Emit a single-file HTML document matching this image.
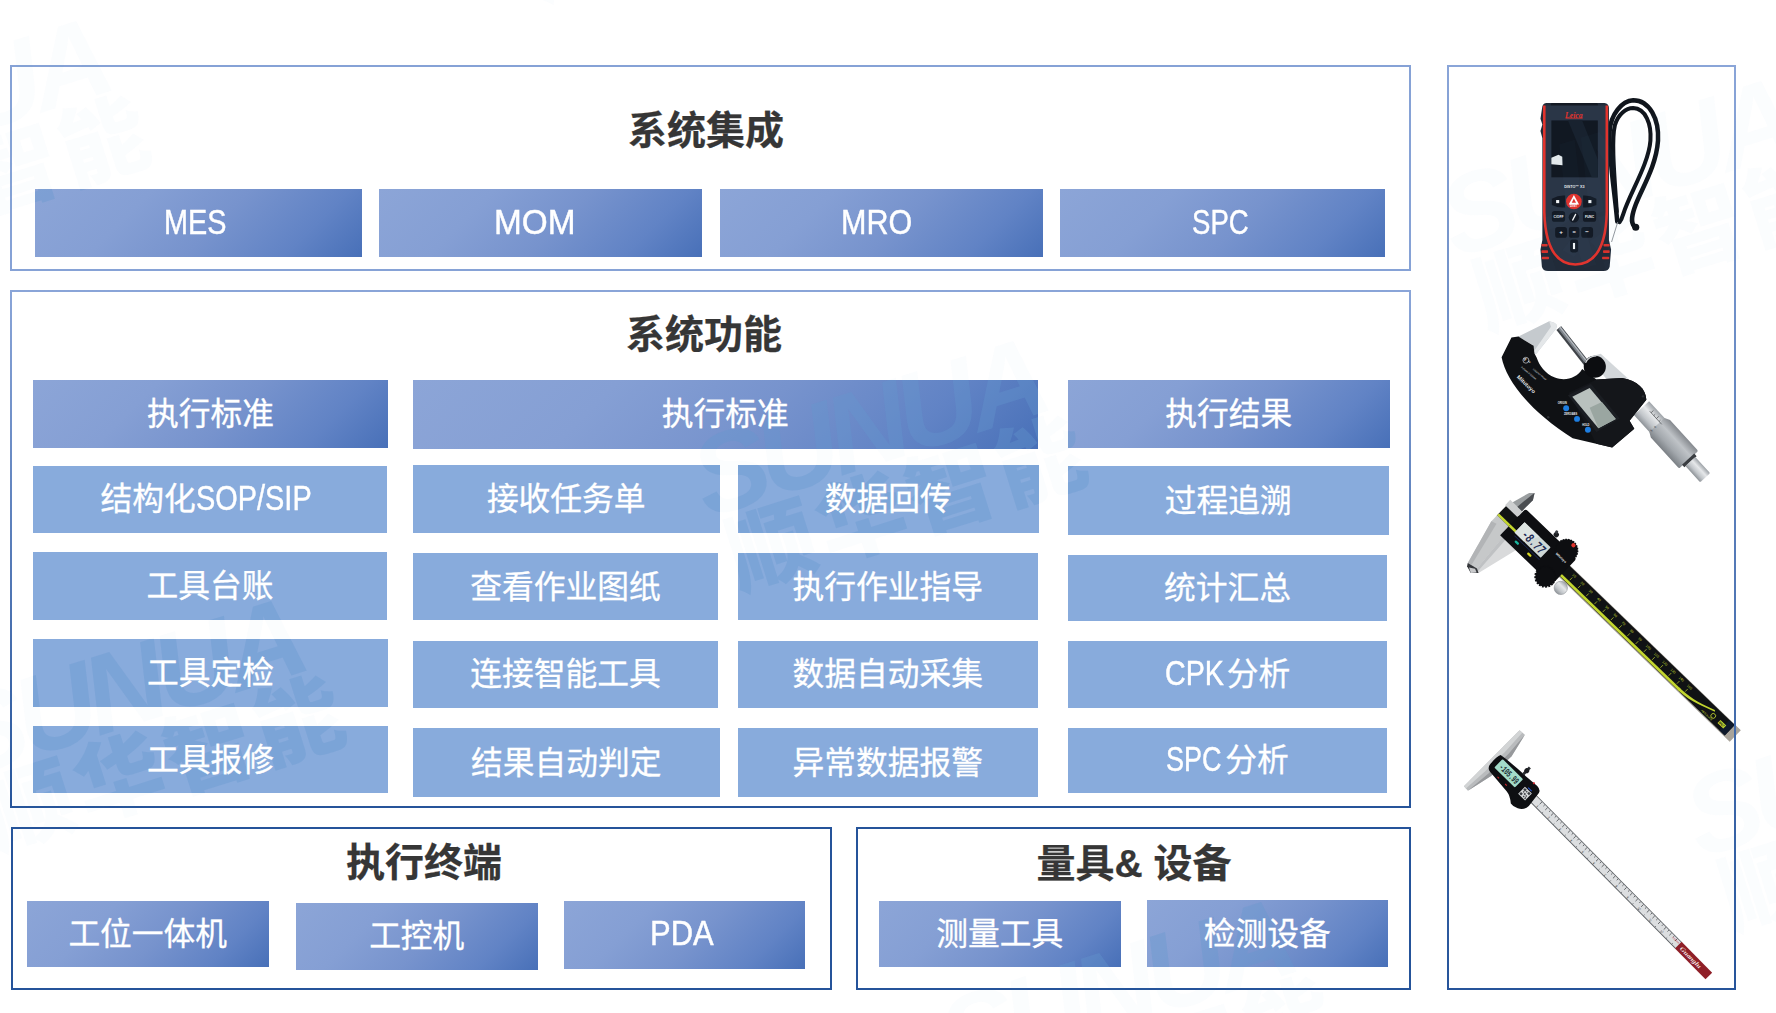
<!DOCTYPE html>
<html lang="zh-CN">
<head>
<meta charset="utf-8">
<title>系统架构</title>
<style>
*{margin:0;padding:0;box-sizing:border-box}
html,body{width:1776px;height:1013px;background:#fff;overflow:hidden}
body{position:relative;font-family:"Liberation Sans","Noto Sans CJK SC",sans-serif;color:#fff}
.p{position:absolute;border:2px solid #86a2d6}
.p.dk{border-color:#25539a}
.p.gr{border:2px solid #5578b8;border-image:linear-gradient(180deg,#8aa5d8 0%,#26549a 100%) 1}
.b{position:absolute;background:#88abdc;color:#fff;-webkit-text-stroke:0.3px #fff;font-size:31.75px;line-height:1;text-align:center;white-space:nowrap}
.b.h{background:linear-gradient(135deg,#8ca5d7 0%,#859fd4 30%,#7793cd 55%,#6183c5 80%,#4870b8 100%)}
.b>span{z-index:2;position:absolute;left:0;right:0;top:50%;transform:translateY(-50%);display:block}
.t{position:absolute;color:#363636;font-weight:700;-webkit-text-stroke:0.25px #363636;font-size:39px;line-height:1;white-space:nowrap;text-align:center}
.wmc{z-index:1;position:absolute;left:0;top:0;width:1776px;height:1013px;pointer-events:none}
.wmc{-webkit-mask-image:linear-gradient(#000,#000),linear-gradient(#000,#000),linear-gradient(#000,#000),linear-gradient(#000,#000),linear-gradient(#000,#000),linear-gradient(#000,#000),linear-gradient(#000,#000),linear-gradient(#000,#000),linear-gradient(#000,#000),linear-gradient(#000,#000),linear-gradient(#000,#000),linear-gradient(#000,#000),linear-gradient(#000,#000),linear-gradient(#000,#000),linear-gradient(#000,#000),linear-gradient(#000,#000),linear-gradient(#000,#000),linear-gradient(#000,#000),linear-gradient(#000,#000),linear-gradient(#000,#000),linear-gradient(#000,#000),linear-gradient(#000,#000),linear-gradient(#000,#000),linear-gradient(#000,#000),linear-gradient(#000,#000),linear-gradient(#000,#000),linear-gradient(#000,#000),linear-gradient(#000,#000),linear-gradient(rgba(0,0,0,.07),rgba(0,0,0,.07));-webkit-mask-position:35px 189px,379px 189px,720px 189px,1060px 189px,33px 380px,413px 380px,1068px 380px,33px 466px,33px 552px,33px 639px,33px 726px,413px 465px,413px 553px,413px 641px,413px 728px,738px 465px,738px 553px,738px 641px,738px 728px,1068px 466px,1068px 555px,1068px 641px,1068px 728px,27px 901px,296px 903px,564px 901px,879px 901px,1147px 900px,0 0;-webkit-mask-size:327px 68px,323px 68px,323px 68px,325px 68px,355px 68px,625px 69px,322px 68px,354px 67px,354px 68px,355px 68px,355px 67px,307px 68px,305px 67px,305px 67px,307px 69px,301px 68px,300px 67px,300px 67px,300px 69px,321px 69px,319px 66px,319px 67px,319px 65px,242px 66px,242px 67px,241px 68px,242px 66px,241px 67px,100% 100%;-webkit-mask-repeat:no-repeat;mask-image:linear-gradient(#000,#000),linear-gradient(#000,#000),linear-gradient(#000,#000),linear-gradient(#000,#000),linear-gradient(#000,#000),linear-gradient(#000,#000),linear-gradient(#000,#000),linear-gradient(#000,#000),linear-gradient(#000,#000),linear-gradient(#000,#000),linear-gradient(#000,#000),linear-gradient(#000,#000),linear-gradient(#000,#000),linear-gradient(#000,#000),linear-gradient(#000,#000),linear-gradient(#000,#000),linear-gradient(#000,#000),linear-gradient(#000,#000),linear-gradient(#000,#000),linear-gradient(#000,#000),linear-gradient(#000,#000),linear-gradient(#000,#000),linear-gradient(#000,#000),linear-gradient(#000,#000),linear-gradient(#000,#000),linear-gradient(#000,#000),linear-gradient(#000,#000),linear-gradient(#000,#000),linear-gradient(rgba(0,0,0,.07),rgba(0,0,0,.07));mask-position:35px 189px,379px 189px,720px 189px,1060px 189px,33px 380px,413px 380px,1068px 380px,33px 466px,33px 552px,33px 639px,33px 726px,413px 465px,413px 553px,413px 641px,413px 728px,738px 465px,738px 553px,738px 641px,738px 728px,1068px 466px,1068px 555px,1068px 641px,1068px 728px,27px 901px,296px 903px,564px 901px,879px 901px,1147px 900px,0 0;mask-size:327px 68px,323px 68px,323px 68px,325px 68px,355px 68px,625px 69px,322px 68px,354px 67px,354px 68px,355px 68px,355px 67px,307px 68px,305px 67px,305px 67px,307px 69px,301px 68px,300px 67px,300px 67px,300px 69px,321px 69px,319px 66px,319px 67px,319px 65px,242px 66px,242px 67px,241px 68px,242px 66px,241px 67px,100% 100%;mask-repeat:no-repeat}
.wm{position:absolute;width:0;height:0;color:rgba(99,151,206,.35);white-space:nowrap;line-height:1}
.wm>div{position:absolute;left:-400px;top:0;width:800px;height:0;transform:rotate(-17.5deg);transform-origin:50% 0}
.wm b,.wm em{position:absolute;left:0;width:800px;text-align:center;display:block}
.wm b{top:-58px;font-size:112px;font-weight:700;font-style:italic;letter-spacing:-8px}
.wm em{top:40px;left:18px;font-style:normal;font-weight:900;font-size:88px;letter-spacing:6px}
.l{display:inline-block;transform-origin:0 50%;font-size:34.5px;-webkit-text-stroke:0.45px #fff}
</style>
</head>
<body>
<div class="p " style="left:10px;top:65px;width:1401px;height:206px"></div>
<div class="p gr" style="left:10px;top:290px;width:1401px;height:518px"></div>
<div class="p dk" style="left:11px;top:827px;width:821px;height:162.5px"></div>
<div class="p dk" style="left:856px;top:827px;width:555px;height:162.5px"></div>
<div class="b h" style="left:35px;top:189px;width:326.5px;height:68px"><span style="margin-left:-6px;margin-top:-1px"><span class="l" style="transform:scaleX(0.835);margin-right:-12.30px">MES</span></span></div>
<div class="b h" style="left:379px;top:189px;width:322.5px;height:68px"><span style="margin-left:-10px;margin-top:-1px"><span class="l" style="transform:scaleX(0.967);margin-right:-2.82px">MOM</span></span></div>
<div class="b h" style="left:720px;top:189px;width:322.5px;height:68px"><span style="margin-left:-10px;margin-top:-1px"><span class="l" style="transform:scaleX(0.885);margin-right:-9.22px">MRO</span></span></div>
<div class="b h" style="left:1059.5px;top:188.5px;width:325px;height:68.5px"><span style="margin-left:-4px;margin-top:-1px"><span class="l" style="transform:scaleX(0.799);margin-right:-14.22px">SPC</span></span></div>
<div class="b h" style="left:33px;top:380px;width:355px;height:67.5px"><span style="margin-top:1px">执行标准</span></div>
<div class="b h" style="left:413px;top:380px;width:624.5px;height:68.5px"><span style="margin-top:1px">执行标准</span></div>
<div class="b h" style="left:1068px;top:379.5px;width:321.5px;height:68px"><span style="margin-top:1px">执行结果</span></div>
<div class="b" style="left:33px;top:466px;width:354px;height:67px"><span style="margin-left:-8px;margin-top:-1.35px">结构化<span class="l" style="transform:scaleX(0.838);margin-right:-22.37px">SOP/SIP</span></span></div>
<div class="b" style="left:33px;top:552px;width:354px;height:68px"><span style="margin-top:1px">工具台账</span></div>
<div class="b" style="left:33px;top:639px;width:355px;height:68px"><span style="margin-top:1px">工具定检</span></div>
<div class="b" style="left:33px;top:726px;width:355px;height:67px"><span style="margin-top:1px">工具报修</span></div>
<div class="b" style="left:413px;top:465px;width:306.5px;height:68px"><span style="margin-top:1px">接收任务单</span></div>
<div class="b" style="left:413px;top:553px;width:305px;height:67px"><span style="margin-top:1px">查看作业图纸</span></div>
<div class="b" style="left:413px;top:640.5px;width:305px;height:67.5px"><span style="margin-top:1px">连接智能工具</span></div>
<div class="b" style="left:413px;top:728px;width:306.5px;height:69px"><span style="margin-top:1px">结果自动判定</span></div>
<div class="b" style="left:738px;top:465px;width:300.5px;height:68px"><span style="margin-top:1px">数据回传</span></div>
<div class="b" style="left:738px;top:553px;width:299.5px;height:67px"><span style="margin-top:1px">执行作业指导</span></div>
<div class="b" style="left:738px;top:640.5px;width:299.5px;height:67.5px"><span style="margin-top:1px">数据自动采集</span></div>
<div class="b" style="left:738px;top:728px;width:299.5px;height:69px"><span style="margin-top:1px">异常数据报警</span></div>
<div class="b" style="left:1068px;top:466px;width:320.5px;height:69px"><span style="margin-top:1px">过程追溯</span></div>
<div class="b" style="left:1068px;top:554.5px;width:319px;height:66.5px"><span style="margin-top:1px">统计汇总</span></div>
<div class="b" style="left:1068px;top:641px;width:319px;height:67px"><span style="margin-top:-1.4px"><span class="l" style="transform:scaleX(0.831);margin-right:-8.99px">CPK</span>分析</span></div>
<div class="b" style="left:1068px;top:728px;width:319px;height:65px"><span style="margin-top:-1.35px"><span class="l" style="transform:scaleX(0.783);margin-right:-11.89px">SPC</span>分析</span></div>
<div class="b h" style="left:27px;top:901px;width:241.5px;height:66px"><span style="margin-top:1px">工位一体机</span></div>
<div class="b h" style="left:296px;top:902.5px;width:241.5px;height:67px"><span style="margin-top:1px">工控机</span></div>
<div class="b h" style="left:563.5px;top:901px;width:241.5px;height:67.5px"><span style="margin-left:-5px;margin-top:-1.5px"><span class="l" style="transform:scaleX(0.897);margin-right:-7.32px">PDA</span></span></div>
<div class="b h" style="left:879px;top:901px;width:241.5px;height:66px"><span style="margin-top:1px">测量工具</span></div>
<div class="b h" style="left:1146.5px;top:900px;width:241.5px;height:67px"><span style="margin-top:1px">检测设备</span></div>
<div class="t" style="left:506px;top:110.5px;width:400px">系统集成</div>
<div class="t" style="left:504px;top:314.5px;width:400px">系统功能</div>
<div class="t" style="left:224px;top:842.5px;width:400px">执行终端</div>
<div class="t" style="left:934px;top:844px;width:400px">量具&amp; 设备</div>
<div class="wmc">
<div class="wm" style="left:-70px;top:110px"><div><b>SUNUA</b><em>顺华智能</em></div></div>
<div class="wm" style="left:670px;top:-160px"><div><b>SUNUA</b><em>顺华智能</em></div></div>
<div class="wm" style="left:125px;top:690px"><div><b>SUNUA</b><em>顺华智能</em></div></div>
<div class="wm" style="left:867px;top:430px"><div><b>SUNUA</b><em>顺华智能</em></div></div>
<div class="wm" style="left:1615px;top:170px"><div><b>SUNUA</b><em>顺华智能</em></div></div>
<div class="wm" style="left:1115px;top:991px"><div><b>SUNUA</b><em>顺华智能</em></div></div>
<div class="wm" style="left:1860px;top:770px"><div><b>SUNUA</b><em>顺华智能</em></div></div>
</div>
<svg style="position:absolute;left:0;top:0" width="1776" height="1013" viewBox="0 0 1776 1013">
<defs>
<linearGradient id="gSil" x1="0" y1="0" x2="0" y2="1"><stop offset="0" stop-color="#9da2a7"/><stop offset=".35" stop-color="#e6e8ea"/><stop offset=".7" stop-color="#c2c6ca"/><stop offset="1" stop-color="#8e9398"/></linearGradient>
<linearGradient id="gSil2" x1="0" y1="0" x2="0" y2="1"><stop offset="0" stop-color="#85898e"/><stop offset=".35" stop-color="#bfc3c7"/><stop offset=".7" stop-color="#a3a8ad"/><stop offset="1" stop-color="#7b8085"/></linearGradient>
<linearGradient id="gJaw" x1="0" y1="0" x2="1" y2="0"><stop offset="0" stop-color="#aeb1b4"/><stop offset=".5" stop-color="#d9dbdc"/><stop offset="1" stop-color="#b5b7b9"/></linearGradient>
</defs>
<g transform="translate(1440,60) scale(0.23697)">
<!-- lanyard -->
<g fill="none" stroke="#10151c" stroke-width="19" stroke-linecap="round">
<path d="M748,682 C738,560 712,420 716,300 C720,230 768,172 815,170 C885,170 925,250 920,340 C912,450 852,540 826,610 C811,650 802,684 820,702"/>
<path d="M746,640 C737,500 722,340 738,275 C752,228 785,203 815,203 C868,205 893,270 888,340 C880,440 802,560 774,648 C768,668 764,676 758,684" stroke-width="17"/>
</g>
<circle cx="826" cy="706" r="15" fill="#10151c"/>
<path d="M750,684 L724,768" stroke="#8d9298" stroke-width="4" fill="none"/>
<!-- body -->
<path d="M448,181 L694,181 Q712,183 713,202 L713,760 L722,800 L716,872 Q712,890 690,890 L456,890 Q434,890 430,872 L424,800 L432,760 L432,330 L424,300 L432,272 L424,248 L431,202 Q432,183 448,181 Z" fill="#212b39"/>
<rect x="468" y="181" width="198" height="26" rx="6" fill="#141a24"/>
<path d="M440,192 L440,640 Q446,860 571,863 Q699,860 704,640 L704,192" fill="#2a3647" stroke="#e2332d" stroke-width="11"/>
<rect x="470" y="255" width="196" height="240" fill="#111822"/>
<path d="M540,255 L600,255 L666,420 L666,495 L640,495 Z" fill="#18222f"/>
<path d="M470,412 L500,400 L516,408 L517,444 L470,440 Z" fill="#e3e9ec"/>
<text x="528" y="243" font-family="'Liberation Serif',serif" font-style="italic" font-weight="700" font-size="38" fill="#e2332d" textLength="74" lengthAdjust="spacingAndGlyphs">Leica</text>
<path d="M530,246 L602,246" stroke="#e2332d" stroke-width="3"/>
<text x="524" y="541" font-family="'Liberation Sans',sans-serif" font-weight="700" font-size="17" fill="#e8ecef" textLength="86" lengthAdjust="spacingAndGlyphs">DISTO™ X3</text>
<!-- keys -->
<g fill="#131a25">
<path d="M472,585 Q500,570 528,572 L528,622 Q500,625 472,612 Z"/>
<path d="M660,585 Q632,570 604,572 L604,622 Q632,625 660,612 Z"/>
<rect x="472" y="637" width="56" height="46" rx="12"/>
<rect x="603" y="637" width="56" height="46" rx="12"/>
<circle cx="565" cy="664" r="22"/>
<rect x="486" y="705" width="50" height="45" rx="12"/>
<rect x="544" y="705" width="44" height="45" rx="8"/>
<rect x="596" y="705" width="50" height="45" rx="12"/>
<rect x="549" y="758" width="34" height="54" rx="10"/>
</g>
<circle cx="565" cy="597" r="33" fill="#e3312c"/>
<path d="M565,570 L543,610 L587,610 Z" fill="#fff"/>
<path d="M565,584 L556,602 L574,602 Z" fill="#e3312c"/>
<text x="549" y="622" font-family="'Liberation Sans',sans-serif" font-weight="700" font-size="13" fill="#fff">DIST</text>
<rect x="490" y="591" width="13" height="13" fill="#f2f4f6"/>
<rect x="626" y="591" width="13" height="13" fill="#f2f4f6"/>
<g font-family="'Liberation Sans',sans-serif" font-weight="700" font-size="14" fill="#f2f4f6" text-anchor="middle">
<text x="500" y="665">C/OFF</text>
<text x="631" y="665">FUNC</text>
<text x="511" y="736" font-size="26">+</text>
<text x="566" y="735" font-size="24">=</text>
<text x="621" y="735" font-size="26">−</text>
</g>
<path d="M560,675 L572,652" stroke="#f2f4f6" stroke-width="6" stroke-linecap="round"/>
<rect x="561" y="772" width="9" height="26" fill="#f2f4f6"/>
<!-- grips -->
<g fill="#d8322c">
<rect x="428" y="776" width="26" height="11" rx="3"/><rect x="428" y="803" width="28" height="11" rx="3"/><rect x="430" y="830" width="30" height="11" rx="3"/>
<rect x="690" y="776" width="26" height="11" rx="3"/><rect x="688" y="803" width="28" height="11" rx="3"/><rect x="684" y="830" width="30" height="11" rx="3"/>
</g>
</g>
<g transform="translate(1470,300) scale(0.19747)">
<!-- thimble assembly -->
<g transform="translate(882,562) rotate(47.6)">
<rect x="-20" y="-52" width="135" height="104" fill="url(#gSil)"/>
<path d="M96,-52 L122,-66 L326,-66 Q334,-66 334,-58 L334,58 Q334,66 326,66 L122,66 L96,52 Z" fill="url(#gSil2)"/>
<rect x="330" y="-42" width="18" height="84" fill="#3a3d41"/>
<rect x="346" y="-34" width="112" height="68" rx="6" fill="url(#gSil)"/>
<g stroke="#3a3d41" stroke-width="3"><path d="M20,-20 L110,-20"/><path d="M30,-20 L30,-36"/><path d="M50,-20 L50,-30"/><path d="M70,-20 L70,-36"/><path d="M90,-20 L90,-30"/></g>
<g font-family="'Liberation Sans',sans-serif" font-size="15" fill="#33363a"><text x="92" y="10" transform="rotate(90 92 10)">0</text><text x="92" y="36" transform="rotate(90 92 36)">5</text></g>
</g>
<!-- sleeve behind body -->
<path d="M598,290 L662,272 L800,398 L700,410 Z" fill="#d3d7da"/>
<!-- spindle -->
<path d="M450,142 L592,324" stroke="#3f4348" stroke-width="31" fill="none"/>
<path d="M453,140 L595,322" stroke="#7d838a" stroke-width="17" fill="none"/>
<path d="M456,138 L598,320" stroke="#b9bec3" stroke-width="6" fill="none"/>
<!-- silver arm -->
<path d="M243,186 L401,107 Q432,112 441,128 L436,146 L336,272 L318,268 L318,228 Z" fill="#c5cace"/>
<path d="M401,107 Q432,112 441,128 L436,146 L336,272 L322,262 L410,136 Z" fill="#e4e7e9"/>
<!-- black frame -->
<path d="M210,190 L160,290 C182,405 300,560 520,700 L720,747 L832,652 L808,612 L893,505 C890,450 850,410 770,395 L640,402 L568,350 C540,398 480,412 430,393 C380,372 350,330 338,292 L326,270 L322,232 L245,185 Z" fill="#0f1114"/>
<path d="M500,470 L640,402 L770,395 C850,410 890,450 893,505 L808,612 L832,652 L720,747 L640,728 Z" fill="#14161a"/>
<!-- lock knob -->
<circle cx="632" cy="338" r="56" fill="#0c0d10"/>
<path d="M585,318 Q600,285 640,283" stroke="#cfd3d6" stroke-width="7" fill="none"/>
<!-- lcd -->
<path d="M496,482 L612,424 L758,600 L640,668 Z" fill="#1b1e23"/>
<path d="M518,490 L606,446 L738,602 L650,650 Z" fill="#b9c1be"/>
<path d="M606,546 L668,516 L738,602 L650,650 Z" fill="#9aa6a1"/>
<!-- buttons -->
<g fill="#1e7fe2"><circle cx="487" cy="548" r="15"/><circle cx="542" cy="602" r="15"/><circle cx="597" cy="657" r="15"/></g>
<g font-family="'Liberation Sans',sans-serif" font-weight="700" font-size="13" fill="#e9ecee">
<text x="444" y="528">ORIGIN</text><text x="476" y="583">ZERO/ABS</text><text x="568" y="637">HOLD</text>
</g>
<g font-family="'Liberation Sans',sans-serif" fill="#e9ecee">
<text transform="translate(236,392) rotate(44)" font-weight="700" font-size="27" textLength="118" lengthAdjust="spacingAndGlyphs">Mitutoyo</text>
<text transform="translate(258,342) rotate(40)" font-size="12">0-25mm  0.001mm</text>
<text transform="translate(318,352) rotate(40)" font-size="10">COOLANT PROOF</text>
<text transform="translate(292,312) rotate(40)" font-size="12" font-weight="700">65</text>
</g>
<circle cx="283" cy="305" r="15" fill="none" stroke="#e9ecee" stroke-width="3"/>
<text x="272" y="311" font-family="'Liberation Sans',sans-serif" font-weight="700" font-size="15" fill="#e9ecee">IP</text>
<circle cx="396" cy="594" r="6" fill="#2b2e33"/><circle cx="876" cy="488" r="6" fill="#2b2e33"/>
</g>
<g transform="translate(1450,480) scale(0.26652)">
<g transform="translate(310,225) rotate(44)">
<!-- beam -->
<rect x="-160" y="-29" width="1218" height="60" fill="#a9a49b"/>
<rect x="-160" y="-27" width="1188" height="54" fill="#101214"/>
<rect x="1000" y="-27" width="28" height="54" fill="#0f1a2c"/>
<rect x="-160" y="16" width="950" height="10" fill="#c3d62f"/>
<path d="M780,16 L790,16 C850,15 890,0 935,-16 L940,-12 C900,2 850,25 790,26 L780,26 Z" fill="#c3d62f"/>
<g stroke="#c3d62f" stroke-width="2.5">
<path d="M205,-2 v14M248,-2 v14M291,-2 v14M334,-2 v14M377,-2 v14M420,-2 v14M463,-2 v14M506,-2 v14M549,-2 v14M592,-2 v14M635,-2 v14M678,-2 v14M721,-2 v14M764,-2 v14M807,-2 v14"/>
</g>
<g font-family="'Liberation Sans',sans-serif" font-size="13" fill="#c3d62f" text-anchor="middle">
<text x="205" y="-8">10</text><text x="248" y="-8">20</text><text x="291" y="-8">30</text><text x="334" y="-8">40</text><text x="377" y="-8">50</text><text x="420" y="-8">60</text><text x="463" y="-8">70</text><text x="506" y="-8">80</text><text x="549" y="-8">90</text><text x="592" y="-8">100</text><text x="635" y="-8">110</text><text x="678" y="-8">120</text><text x="721" y="-8">130</text><text x="764" y="-8">140</text><text x="807" y="-8">150</text>
</g>
<rect x="976" y="-4" width="30" height="16" fill="#c3d62f"/>
<text x="978" y="9" font-family="'Liberation Sans',sans-serif" font-weight="700" font-size="12" fill="#131518">IP67</text>
<circle cx="946" cy="4" r="9" fill="none" stroke="#c3d62f" stroke-width="3"/>
<text x="900" y="22" font-family="'Liberation Sans',sans-serif" font-size="10" fill="#c3d62f">ABSOLUTE</text>
<!-- jaws -->
<path d="M-160,26 L-160,57 L-115,231 L-108,242 L-81,250 L-74,232 L-88,26 Z" fill="#c6c8c9"/>
<path d="M-160,57 L-115,231 L-100,226 L-140,50 Z" fill="#b2b4b6"/>
<path d="M-88,66 L-75,234 L-81,250 L-60,230 L-18,68 Z" fill="#d9dadb"/>
<path d="M-88,66 L-75,234 L-66,226 L-74,66 Z" fill="#bfc1c3"/>
<path d="M-115,231 L-108,242 L-81,250 L-60,230 L-76,222 Z" fill="#34363a"/>
<path d="M-100,240 L-81,250 L-66,234 L-80,228 Z" fill="#c9cacc"/>
<rect x="-165" y="-50" width="64" height="28" fill="#cdcfd0"/>
<path d="M-152,-50 L-132,-118 L-117,-132 L-103,-108 L-104,-50 Z" fill="#9a9ea0"/>
<path d="M-128,-50 L-120,-118 L-117,-132 L-103,-108 L-104,-50 Z" fill="#4b4e52"/>
<!-- slider housing -->
<path d="M-100,-58 Q-100,-66 -90,-66 L150,-66 Q168,-66 168,-52 L168,54 Q168,72 150,72 L-100,72 Z" fill="#0d0e11"/>
<rect x="-100" y="16" width="36" height="10" fill="#c3d62f"/>
<rect x="-68" y="-27" width="136" height="54" rx="3" fill="#cfd8d6"/>
<path d="M-68,-27 L10,-27 L-20,27 L-68,27 Z" fill="#dde4e2"/>
<text x="-44" y="19" font-family="'Liberation Mono',monospace" font-weight="700" font-style="italic" font-size="50" fill="#1d2b55" textLength="104" lengthAdjust="spacingAndGlyphs">-8.77</text>
<rect x="-45" y="44" width="19" height="9" rx="4" fill="#18b49c"/>
<rect x="20" y="44" width="19" height="9" rx="4" fill="#d9da22"/>
<rect x="-60" y="34" width="130" height="3" fill="#1c2a5a"/>
<!-- battery bump + red dot + screw -->
<circle cx="119" cy="-60" r="42" fill="#0d0e11" stroke="#0d0e11" stroke-width="5" stroke-dasharray="6 4"/>
<circle cx="124" cy="-92" r="8" fill="#e0342c"/>
<circle cx="50" cy="-76" r="10" fill="#1d1f23"/>
<circle cx="44" cy="-84" r="6" fill="#3a3d42"/>
<text x="98" y="-22" font-family="'Liberation Sans',sans-serif" font-weight="700" font-size="12" fill="#e6e8ea" textLength="50" lengthAdjust="spacingAndGlyphs">Mitutoyo</text>
<!-- roller housing & thumb wheel -->
<circle cx="130" cy="66" r="38" fill="#0d0e11" stroke="#0d0e11" stroke-width="7" stroke-dasharray="7 5"/>
<circle cx="201" cy="56" r="25" fill="url(#gSil)" stroke="#8c9095" stroke-width="2"/>
</g>
</g>
<g transform="translate(1450,720) scale(0.27647)">
<!-- rule -->
<g transform="translate(308.7,291.9) rotate(45.3)">
<rect x="-40" y="-17" width="776" height="34" fill="#5d6165"/>
<rect x="-40" y="-14" width="776" height="28" fill="#dcdee0"/>
<g stroke="#2f3236" stroke-width="2.4">
<path d="M20,-14 v12M34.5,-14 v7M49,-14 v12M63.5,-14 v7M78,-14 v12M92.5,-14 v7M107,-14 v12M121.5,-14 v7M136,-14 v12M150.5,-14 v7M165,-14 v12M179.5,-14 v7M194,-14 v12M208.5,-14 v7M223,-14 v12M237.5,-14 v7M252,-14 v12M266.5,-14 v7M281,-14 v12M295.5,-14 v7M310,-14 v12M324.5,-14 v7M339,-14 v12M353.5,-14 v7M368,-14 v12M382.5,-14 v7M397,-14 v12M411.5,-14 v7M426,-14 v12M440.5,-14 v7M455,-14 v12M469.5,-14 v7M484,-14 v12M498.5,-14 v7M513,-14 v12M527.5,-14 v7M542,-14 v12M556.5,-14 v7M571,-14 v12M585.5,-14 v7M600,-14 v12M614.5,-14 v7M629,-14 v12M643.5,-14 v7M658,-14 v12M672.5,-14 v7M687,-14 v12M701.5,-14 v7M716,-14 v12"/>
<path d="M20,14 v-5M49,14 v-5M78,14 v-5M107,14 v-5M136,14 v-5M165,14 v-5M194,14 v-5M223,14 v-5M252,14 v-5M281,14 v-5M310,14 v-5M339,14 v-5M368,14 v-5M397,14 v-5M426,14 v-5M455,14 v-5M484,14 v-5M513,14 v-5M542,14 v-5M571,14 v-5M600,14 v-5M629,14 v-5M658,14 v-5M687,14 v-5M716,14 v-5" stroke-width="2"/>
</g>
<g font-family="'Liberation Sans',sans-serif" font-size="11" fill="#3f4246" text-anchor="middle">
<text x="20" y="12">1</text><text x="78" y="12">2</text><text x="136" y="12">3</text><text x="194" y="12">4</text><text x="252" y="12">5</text><text x="310" y="12">6</text><text x="368" y="12">7</text><text x="426" y="12">8</text><text x="484" y="12">9</text><text x="542" y="12">10</text><text x="600" y="12">11</text><text x="658" y="12">12</text>
</g>
<rect x="735" y="-17" width="157" height="34" fill="#8f1f28"/>
<text x="748" y="7" font-family="'Liberation Serif',serif" font-style="italic" font-weight="700" font-size="22" fill="#f3e9ea" textLength="100" lengthAdjust="spacingAndGlyphs">Guanglu</text>
<text x="700" y="-3" font-family="'Liberation Sans',sans-serif" font-size="9" fill="#c0202c">0.01mm</text>
</g>
<g transform="translate(230,232) rotate(44.5)">
<!-- base bar -->
<path d="M-121,-154 L-96,-156 L-76,-67 L-79,36 L-101,133 L-123,131 Z" fill="#b9bbbd"/>
<path d="M-121,-154 L-108,-155 L-104,-60 L-106,40 L-112,132 L-123,131 Z" fill="#d2d4d5"/>
<path d="M-96,-156 L-76,-67 L-79,36 L-101,133 L-92,36 L-90,-66 Z" fill="#97999c"/>
<!-- display -->
<path d="M-107,-42 Q-60,-50 20,-52 L66,-55 Q86,-54 88,-40 L95,18 Q94,40 72,52 Q56,60 42,57 Q20,38 0,36 L-92,28 Q-110,24 -111,8 Q-114,-30 -107,-42 Z" fill="#0e0f12"/>
<rect x="-92" y="-37" width="104" height="43" rx="4" fill="#a3dcc9"/>
<text x="-80" y="-4" font-family="'Liberation Mono',monospace" font-weight="700" font-size="34" fill="#1c2c33" textLength="86" lengthAdjust="spacingAndGlyphs">-105.99</text>
<rect x="36" y="-22" width="35" height="35" fill="#d9dbdc"/>
<g fill="#3a3d41"><rect x="39" y="-19" width="9" height="9"/><rect x="59" y="-19" width="9" height="9"/><rect x="39" y="1" width="9" height="9"/><rect x="51" y="-16" width="5" height="5"/><rect x="51" y="-6" width="6" height="6"/><rect x="60" y="-4" width="5" height="5"/><rect x="55" y="4" width="5" height="5"/><rect x="63" y="3" width="5" height="7"/><rect x="43" y="-8" width="5" height="5"/></g>
<rect x="-5" y="-84" width="10" height="34" fill="#2b2d31"/>
<circle cx="0" cy="-68" r="9" fill="#1b1d20"/>
<rect x="-60" y="20" width="8" height="4" fill="#d0242c"/><rect x="-22" y="19" width="8" height="4" fill="#d0242c"/>
<rect x="46" y="-30" width="18" height="4" fill="#2a55c8"/><circle cx="50" cy="-54" r="4" fill="#c8262c"/>
</g>
</g>
</svg>
<div class="p gr" style="left:1446.5px;top:65px;width:289.5px;height:924.5px"></div>
</body>
</html>
